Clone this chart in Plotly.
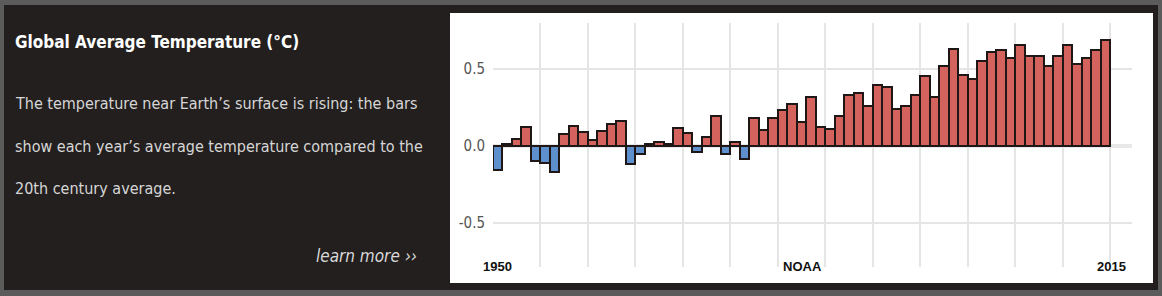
import plotly.graph_objects as go

W, H = 1162, 296

years = list(range(1950, 2015))
anomalies = [
    -0.16, 0.01, 0.044, 0.12, -0.098, -0.11, -0.174, 0.076, 0.13, 0.087,
    0.037, 0.098, 0.14, 0.16, -0.12, -0.055, 0.01, 0.022, 0.01, 0.113,
    0.08, -0.04, 0.06, 0.195, -0.055, 0.022, -0.083, 0.18, 0.10, 0.18,
    0.233, 0.272, 0.152, 0.316, 0.124, 0.109, 0.196, 0.331, 0.342, 0.259,
    0.399, 0.381, 0.24, 0.259, 0.333, 0.453, 0.316, 0.523, 0.632, 0.464,
    0.436, 0.551, 0.61, 0.621, 0.571, 0.654, 0.588, 0.588, 0.519, 0.588,
    0.654, 0.534, 0.571, 0.621, 0.686,
]
ytick_vals = [-0.5, 0.0, 0.5]
ytick_text = ["-0.5", "0.0", "0.5"]
title_text = "Global Average Temperature (°C)"
body_lines = [
    "The temperature near Earth\u2019s surface is rising: the bars",
    "show each year\u2019s average temperature compared to the",
    "20th century average.",
]
link_text = "learn more \u203a\u203a"
start_label, source_label, end_label = "1950", "NOAA", "2015"

RED, BLUE = "#d3635c", "#5d90cc"
colors = [RED if v >= 0 else BLUE for v in anomalies]

NARROW = "DejaVu Sans Condensed, Liberation Sans, sans-serif"


def px(x):
    return x / W


def py(y):
    return 1 - y / H


fig = go.Figure()
fig.add_trace(go.Bar(
    x=years, y=anomalies, marker=dict(color=colors, line=dict(color="#1f1716", width=2)),
    width=1.0, hoverinfo="x+y", showlegend=False,
))

shapes = [
    dict(type="rect", xref="paper", yref="paper", x0=px(4), x1=px(1158), y0=py(290), y1=py(5),
         fillcolor="#231f1e", line=dict(width=0), layer="below"),
    dict(type="rect", xref="paper", yref="paper", x0=px(450), x1=px(1153), y0=py(283), y1=py(13),
         fillcolor="#ffffff", line=dict(width=0), layer="below"),
]

annotations = [
    dict(text=title_text, x=px(13), y=py(42), xref="paper", yref="paper", xanchor="left", yanchor="middle",
         showarrow=False, font=dict(family=NARROW, size=17, color="#ffffff", weight="bold")),
    dict(text=link_text, x=px(419), y=py(256), xref="paper", yref="paper", xanchor="right", yanchor="middle",
         showarrow=False, font=dict(family=NARROW, size=17, color="#d9d9d9", style="italic")),
    dict(text=start_label, x=px(497), y=py(266), xref="paper", yref="paper", xanchor="center", yanchor="middle",
         showarrow=False, font=dict(family="Liberation Sans, Arial, sans-serif", size=13, color="#111111", weight="bold")),
    dict(text=source_label, x=px(802), y=py(266), xref="paper", yref="paper", xanchor="center", yanchor="middle",
         showarrow=False, font=dict(family="Liberation Sans, Arial, sans-serif", size=13, color="#111111", weight="bold")),
    dict(text=end_label, x=px(1111), y=py(266), xref="paper", yref="paper", xanchor="center", yanchor="middle",
         showarrow=False, font=dict(family="Liberation Sans, Arial, sans-serif", size=13, color="#111111", weight="bold")),
]
for i, (line, yc) in enumerate(zip(body_lines, [104, 146, 188])):
    annotations.append(dict(text=line, x=px(13), y=py(yc), xref="paper", yref="paper", xanchor="left",
                            yanchor="middle", showarrow=False,
                            font=dict(family=NARROW, size=16, color="#d6d6d6")))

fig.update_layout(
    width=W, height=H, margin=dict(l=0, r=0, t=0, b=0),
    paper_bgcolor="#5b5b5b", plot_bgcolor="rgba(0,0,0,0)",
    bargap=0, shapes=shapes, annotations=annotations,
    xaxis=dict(domain=[px(493), px(1132)], range=[1949.5, 2016.8], tickmode="linear", tick0=1949.5, dtick=5,
               showticklabels=False, showgrid=True, gridcolor="#e5e5e5", gridwidth=2, zeroline=False,
               showline=False, ticks=""),
    yaxis=dict(domain=[py(267), py(23)], range=[-0.79, 0.80], tickvals=ytick_vals, ticktext=ytick_text,
               showgrid=True, gridcolor="#e5e5e5", gridwidth=2, zeroline=True, zerolinecolor="#e8e8e8",
               zerolinewidth=4, ticks="", ticklabelstandoff=7,
               tickfont=dict(family=NARROW, size=15, color="#555555")),
)

fig.write_html("out.html")
